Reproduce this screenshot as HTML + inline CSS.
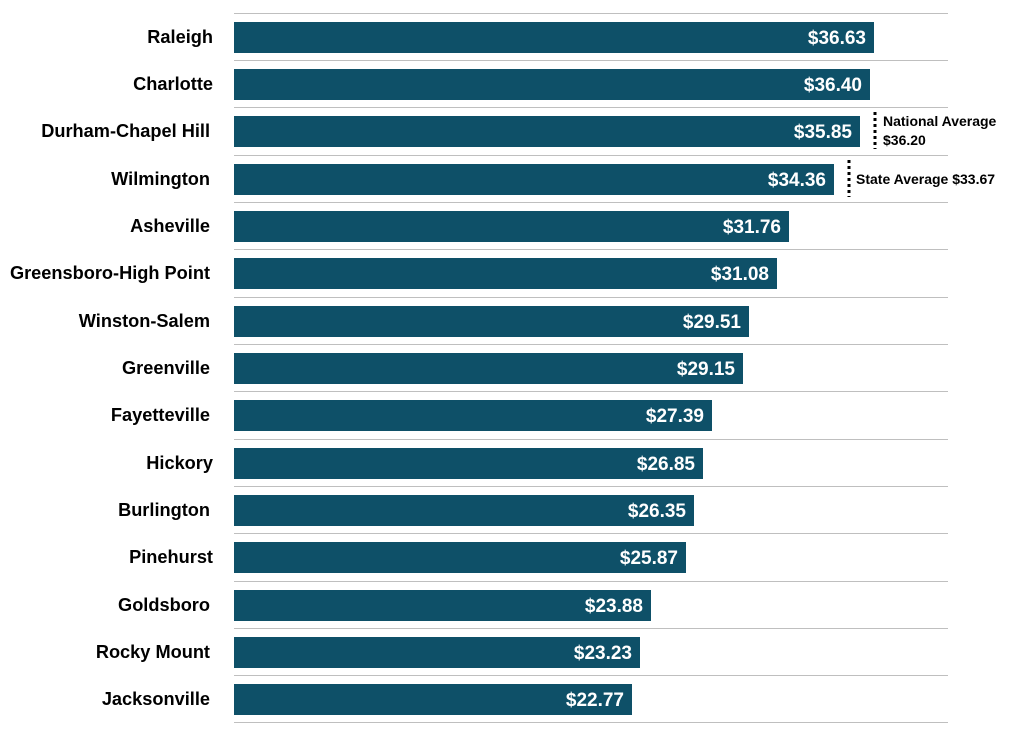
<!DOCTYPE html>
<html><head><style>
body{margin:0;background:#fff;}
svg{display:block;font-family:"Liberation Sans",sans-serif;font-weight:bold;}
</style></head><body>
<svg width="1024" height="743" viewBox="0 0 1024 743">
<g stroke="#bfbfbf" stroke-width="1">
<line x1="234" x2="948" y1="13.5" y2="13.5"/><line x1="234" x2="948" y1="60.5" y2="60.5"/><line x1="234" x2="948" y1="107.5" y2="107.5"/><line x1="234" x2="948" y1="155.5" y2="155.5"/><line x1="234" x2="948" y1="202.5" y2="202.5"/><line x1="234" x2="948" y1="249.5" y2="249.5"/><line x1="234" x2="948" y1="297.5" y2="297.5"/><line x1="234" x2="948" y1="344.5" y2="344.5"/><line x1="234" x2="948" y1="391.5" y2="391.5"/><line x1="234" x2="948" y1="439.5" y2="439.5"/><line x1="234" x2="948" y1="486.5" y2="486.5"/><line x1="234" x2="948" y1="533.5" y2="533.5"/><line x1="234" x2="948" y1="581.5" y2="581.5"/><line x1="234" x2="948" y1="628.5" y2="628.5"/><line x1="234" x2="948" y1="675.5" y2="675.5"/><line x1="234" x2="948" y1="722.5" y2="722.5"/>
</g>
<g fill="#0e5068">
<rect x="234" y="22" width="640" height="31"/>
<rect x="234" y="69" width="636" height="31"/>
<rect x="234" y="116" width="626" height="31"/>
<rect x="234" y="164" width="600" height="31"/>
<rect x="234" y="211" width="555" height="31"/>
<rect x="234" y="258" width="543" height="31"/>
<rect x="234" y="306" width="515" height="31"/>
<rect x="234" y="353" width="509" height="31"/>
<rect x="234" y="400" width="478" height="31"/>
<rect x="234" y="448" width="469" height="31"/>
<rect x="234" y="495" width="460" height="31"/>
<rect x="234" y="542" width="452" height="31"/>
<rect x="234" y="590" width="417" height="31"/>
<rect x="234" y="637" width="406" height="31"/>
<rect x="234" y="684" width="398" height="31"/>
</g>
<g fill="#fff" font-size="19" text-anchor="end">
<text x="866" y="44">$36.63</text>
<text x="862" y="91">$36.40</text>
<text x="852" y="138">$35.85</text>
<text x="826" y="186">$34.36</text>
<text x="781" y="233">$31.76</text>
<text x="769" y="280">$31.08</text>
<text x="741" y="328">$29.51</text>
<text x="735" y="375">$29.15</text>
<text x="704" y="422">$27.39</text>
<text x="695" y="470">$26.85</text>
<text x="686" y="517">$26.35</text>
<text x="678" y="564">$25.87</text>
<text x="643" y="612">$23.88</text>
<text x="632" y="659">$23.23</text>
<text x="624" y="706">$22.77</text>
</g>
<g fill="#000" font-size="18.2" text-anchor="end">
<text x="213" y="43">Raleigh</text>
<text x="213" y="90">Charlotte</text>
<text x="210" y="137">Durham-Chapel Hill</text>
<text x="210" y="185">Wilmington</text>
<text x="210" y="232">Asheville</text>
<text x="210" y="279">Greensboro-High Point</text>
<text x="210" y="327">Winston-Salem</text>
<text x="210" y="374">Greenville</text>
<text x="210" y="421">Fayetteville</text>
<text x="213" y="469">Hickory</text>
<text x="210" y="516">Burlington</text>
<text x="213" y="563">Pinehurst</text>
<text x="210" y="611">Goldsboro</text>
<text x="210" y="658">Rocky Mount</text>
<text x="210" y="705">Jacksonville</text>
</g>
<g stroke="#000" stroke-width="3" stroke-dasharray="3,3">
<line x1="875" x2="875" y1="112" y2="149"/>
<line x1="849" x2="849" y1="160" y2="197"/>
</g>
<g fill="#000" font-size="14">
<text x="883" y="126">National Average</text>
<text x="883" y="145">$36.20</text>
<text x="856" y="184">State Average $33.67</text>
</g>
</svg>
</body></html>
